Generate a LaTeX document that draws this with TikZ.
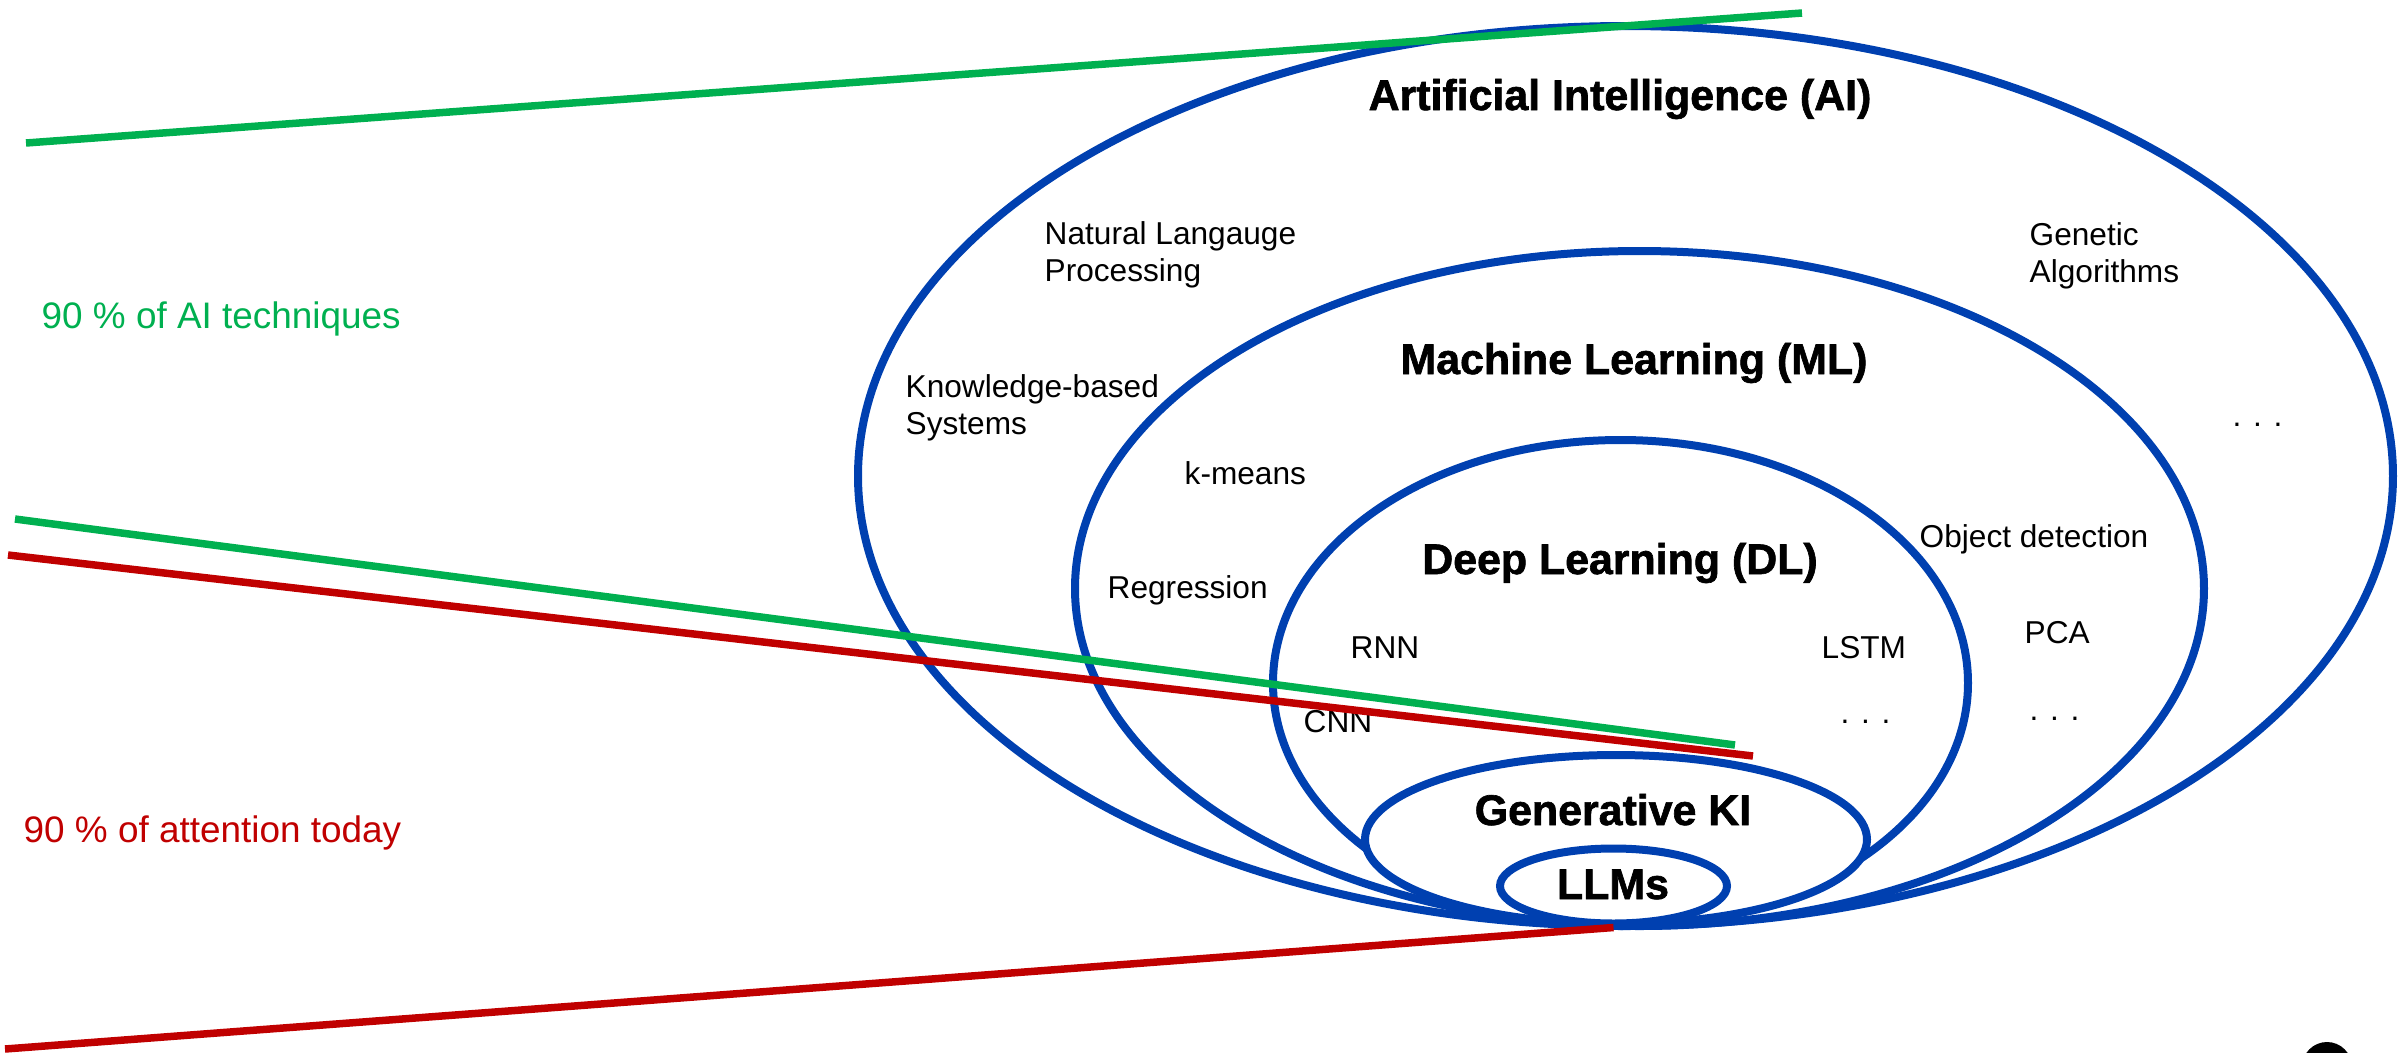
\documentclass[tikz,border=0pt]{standalone}
\usepackage{fontspec}
\setmainfont{Liberation Sans}
\newfontfamily\titlefont[FakeBold=1.5]{Liberation Sans Bold}
\usetikzlibrary{shapes.geometric}
\definecolor{setblue}{HTML}{0040B0}
\definecolor{sharegreen}{HTML}{00B050}
\definecolor{sharered}{HTML}{C00000}

\begin{document}
\begin{tikzpicture}[x=0.1mm, y=-0.1mm,
						set/.style={ellipse, draw=setblue, line width=0.8mm, inner sep=0pt},
						title/.style={font=\fontsize{12.2}{14}\titlefont, anchor=base, inner sep=0pt},
						item/.style={font=\fontsize{9}{10.5}\selectfont, align=left, inner sep=0pt},
						note/.style={font=\fontsize{10.5}{12}\selectfont, anchor=base west, inner sep=0pt},
						share/.style={line width=0.75mm}]

		\useasboundingbox (0,0) rectangle (2407,1052);
		\clip (0,0) rectangle (2407,1052);

		\node[set, minimum width=153.5mm, minimum height=90mm] (ai) at (1625.5,476) {};
		\node[set, minimum width=112.9mm, minimum height=67.5mm] (ml) at (1639.5,588.5) {};
		\node[set, minimum width=69.5mm, minimum height=48.6mm] (dl) at (1620.5,683) {};
		\node[set, fill=white, minimum width=50.2mm, minimum height=16.9mm] (genki) at (1616,839.5) {};
		\node[set, fill=white, minimum width=22.7mm, minimum height=7.5mm] (llms) at (1613.5,886) {};

		\node[title] (aititle) at (1620,110) {Artificial Intelligence (AI)};
		\node[title] (mltitle) at (1634,374) {Machine Learning (ML)};
		\node[title] (dltitle) at (1620,574) {Deep Learning (DL)};
		\node[title] (genkititle) at (1613,825) {Generative KI};
		\node[title] (llmstitle) at (1613,899) {LLMs};

		\node[item, anchor=north west] (nlp) at (1044,221) {Natural Langauge\\Processing};
		\node[item, anchor=north west] (genalg) at (2029,222) {Genetic\\Algorithms};
		\node[item, anchor=north west] (kbs) at (905,374) {Knowledge-based\\Systems};
		\node[item, anchor=base west] (kmeans) at (1184,484) {k-means};
		\node[item, anchor=base west] (objdet) at (1919,547) {Object detection};
		\node[item, anchor=base west] (regr) at (1107,598) {Regression};
		\node[item, anchor=base west] (pca) at (2024,643) {PCA};
		\node[item, anchor=base west] (rnn) at (1350,658) {RNN};
		\node[item, anchor=base west] (lstm) at (1821,658) {LSTM};
		\node[item, anchor=base west] (cnn) at (1303,732) {CNN};
		\node[item, anchor=base west] (aidots) at (2232,426) {. . .};
		\node[item, anchor=base west] (mldots) at (2029,720) {. . .};
		\node[item, anchor=base west] (dldots) at (1840,723) {. . .};

		\node[note, text=sharegreen] (techniques) at (41,328) {90 \% of AI techniques};
		\node[note, text=sharered] (attention) at (23,842) {90 \% of attention today};

		\node[circle, fill=black, minimum size=5mm, inner sep=0pt] (pagemark) at (2327,1067) {};

		\coordinate (gtop1) at (26,143);
		\coordinate (gtop2) at (1802,13);
		\coordinate (gmid1) at (15,519);
		\coordinate (gmid2) at (1735,745);
		\coordinate (rmid1) at (8,555);
		\coordinate (rmid2) at (1753,756);
		\coordinate (rbot1) at (5,1049);

		\draw[share, sharegreen] (gtop1) -- (gtop2);
		\draw[share, sharegreen] (gmid1) -- (gmid2);
		\draw[share, sharered] (rmid1) -- (rmid2);
		\draw[share, sharered] (rbot1) -- (llms.south);

	\end{tikzpicture}
\end{document}
